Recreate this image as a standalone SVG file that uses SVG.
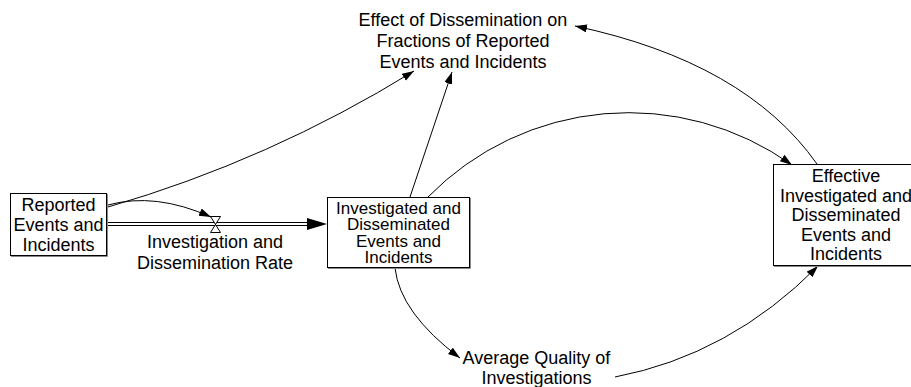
<svg xmlns="http://www.w3.org/2000/svg" width="911" height="387" viewBox="0 0 911 387">
  <style>
    .lbl { font-family: "Liberation Sans", Arial, sans-serif; font-size: 18px; fill: #000; text-anchor: middle; }
    .tight { font-size: 17px; }
    .box { fill: #fff; stroke: #000; stroke-width: 1; }
    .shadow { fill: none; stroke: #888; stroke-width: 1; }
    .link { fill: none; stroke: #000; stroke-width: 1; marker-end: url(#arrow); }
    .pipe { fill: none; stroke: #000; stroke-width: 1; }
  </style>
  <defs>
    <marker id="arrow" markerUnits="userSpaceOnUse" markerWidth="14" markerHeight="10" refX="12" refY="4" orient="auto">
      <path d="M0,0 L12,4 L0,8 Z" fill="#000"/>
    </marker>
    <marker id="flowhead" markerUnits="userSpaceOnUse" markerWidth="22" markerHeight="14" refX="20" refY="6" orient="auto">
      <path d="M0,0 L20,6 L0,12 Z" fill="#000"/>
    </marker>
  </defs>
  <rect width="911" height="387" fill="#fff"/>

  <!-- connectors -->
  <g id="connectors">
    <!-- material flow pipe with valve -->
    <path class="pipe" d="M107,222.5 H309"/>
    <path class="pipe" d="M107,225.5 H309"/>
    <path d="M307,224 H327" stroke="none" fill="none" marker-end="url(#flowhead)"/>
    <path d="M210.5,216.5 H220.5 L210.5,232.5 H220.5 Z" fill="#fff" stroke="#000" stroke-width="1"/>
    <!-- causal links -->
    <path class="link" d="M108,205 Q155,192 211,217"/>
    <path class="link" d="M108,207 Q270,160 414,71"/>
    <path class="link" d="M410,197 L452,72"/>
    <path class="link" d="M428,197 A281,281 0 0 1 792,165"/>
    <path class="link" d="M817,164 Q745,62 575,26"/>
    <path class="link" d="M395,268 Q400,313 460,358"/>
    <path class="link" d="M615,377 Q730,355 818,266"/>
  </g>

  <g id="reported">
    <path class="shadow" d="M11,256.5 H107.5 V194"/>
    <rect class="box" x="10.5" y="193.5" width="96" height="62"/>
    <text class="lbl" x="58.5" y="211">Reported</text>
    <text class="lbl" x="58.5" y="231">Events and</text>
    <text class="lbl" x="58.5" y="251">Incidents</text>
  </g>

  <g id="rate">
    <text class="lbl" x="215" y="248">Investigation and</text>
    <text class="lbl" x="215" y="269">Dissemination Rate</text>
  </g>

  <g id="investigated">
    <path class="shadow" d="M328,268.5 H470.5 V198"/>
    <rect class="box" x="327.5" y="197.5" width="142" height="70"/>
    <text class="lbl tight" x="398.5" y="213.5">Investigated and</text>
    <text class="lbl tight" x="398.5" y="230">Disseminated</text>
    <text class="lbl tight" x="398.5" y="246.5">Events and</text>
    <text class="lbl tight" x="398.5" y="263">Incidents</text>
  </g>

  <g id="effect">
    <text class="lbl" x="463" y="26">Effect of Dissemination on</text>
    <text class="lbl" x="463" y="47">Fractions of Reported</text>
    <text class="lbl" x="463" y="68">Events and Incidents</text>
  </g>

  <g id="effective">
    <path class="shadow" d="M774,266.5 H921"/>
    <rect class="box" x="773.5" y="164.5" width="146" height="101"/>
    <text class="lbl" x="846" y="182">Effective</text>
    <text class="lbl" x="846" y="201.5">Investigated and</text>
    <text class="lbl" x="846" y="221">Disseminated</text>
    <text class="lbl" x="846" y="240.5">Events and</text>
    <text class="lbl" x="846" y="260">Incidents</text>
  </g>

  <g id="quality">
    <text class="lbl" x="536.5" y="364">Average Quality of</text>
    <text class="lbl" x="536.5" y="383.5">Investigations</text>
  </g>
</svg>
